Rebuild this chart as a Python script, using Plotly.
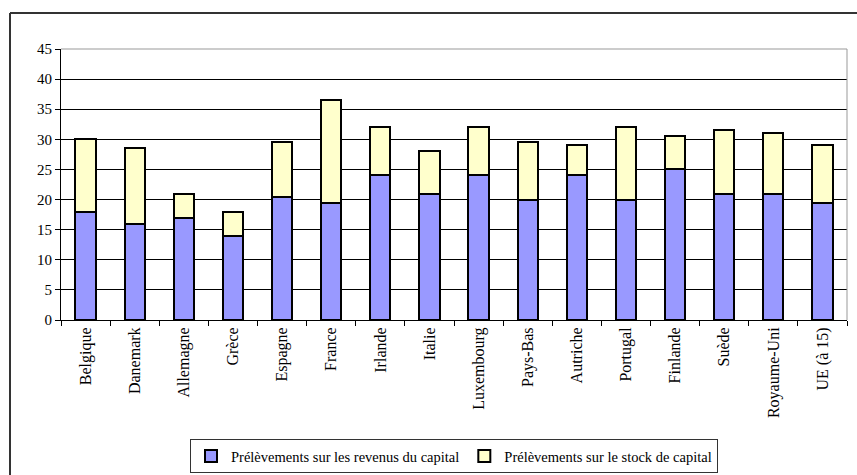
import plotly.graph_objects as go

categories = ["Belgique", "Danemark", "Allemagne", "Grèce", "Espagne", "France", "Irlande",
              "Italie", "Luxembourg", "Pays-Bas", "Autriche", "Portugal", "Finlande", "Suède",
              "Royaume-Uni", "UE (à 15)"]
revenus = [18, 16, 17, 14, 20.5, 19.5, 24, 21, 24, 20, 24, 20, 25, 21, 21, 19.5]
totaux = [30, 28.5, 21, 18, 29.5, 36.5, 32, 28, 32, 29.5, 29, 32, 30.5, 31.5, 31, 29]
stock = [round(t - r, 2) for t, r in zip(totaux, revenus)]
series_names = ["Prélèvements sur les revenus du capital", "Prélèvements sur le stock de capital"]

W, H = 857, 475
L, R, T, B = 61, 10, 49, 155
pw, ph = W - L - R, H - T - B

def px(x):
    return (x - L) / pw

def py(y):
    return (H - B - y) / ph

font = dict(family="Liberation Serif", size=15, color="black")
xfont = dict(family="Liberation Serif", size=16, color="black")
lfont = dict(family="Liberation Serif", size=14.5, color="black")

fig = go.Figure()
fig.add_trace(go.Bar(x=categories, y=revenus, name=series_names[0],
                     marker=dict(color="#9999FF", line=dict(color="black", width=2)), width=0.41))
fig.add_trace(go.Bar(x=categories, y=stock, name=series_names[1],
                     marker=dict(color="#FFFFCC", line=dict(color="black", width=2)), width=0.41))

fig.update_layout(
    barmode="stack",
    width=W, height=H,
    margin=dict(l=L, r=R, t=T, b=B, pad=0, autoexpand=False),
    paper_bgcolor="white", plot_bgcolor="white",
    font=font,
    showlegend=True,
    legend=dict(orientation="h", x=0.5, xanchor="center", yref="container",
                y=1 - 439 / H, yanchor="top",
                bordercolor="#333333", borderwidth=1, font=lfont,
                traceorder="normal", itemwidth=30, tracegroupgap=0),
    xaxis=dict(type="category", showgrid=False, showline=True, linecolor="black", linewidth=1,
               ticks="outside", ticklen=5, tickcolor="black", tickson="boundaries",
               tickangle=-90, tickfont=xfont, range=[-0.5, 15.5], automargin=False),
    yaxis=dict(range=[0, 45], dtick=5, showgrid=True, gridcolor="black", gridwidth=1,
               showline=True, linecolor="black", linewidth=1, ticks="outside", ticklen=5,
               tickcolor="black", tickfont=font, zeroline=False, automargin=False),
    shapes=[
        dict(type="line", xref="paper", yref="paper", x0=0, x1=1, y0=1, y1=1,
             line=dict(color="#999999", width=1)),
        dict(type="line", xref="paper", yref="paper", x0=1, x1=1, y0=0, y1=1,
             line=dict(color="#999999", width=1)),
        dict(type="line", xref="paper", yref="paper", x0=px(10), x1=px(860), y0=py(13), y1=py(13),
             line=dict(color="#333333", width=2)),
        dict(type="line", xref="paper", yref="paper", x0=px(10), x1=px(10), y0=py(13), y1=py(480),
             line=dict(color="#333333", width=2)),
    ],
)

fig.write_html("out.html", config={"displayModeBar": False},
               post_script="document.body.style.margin='0';")
